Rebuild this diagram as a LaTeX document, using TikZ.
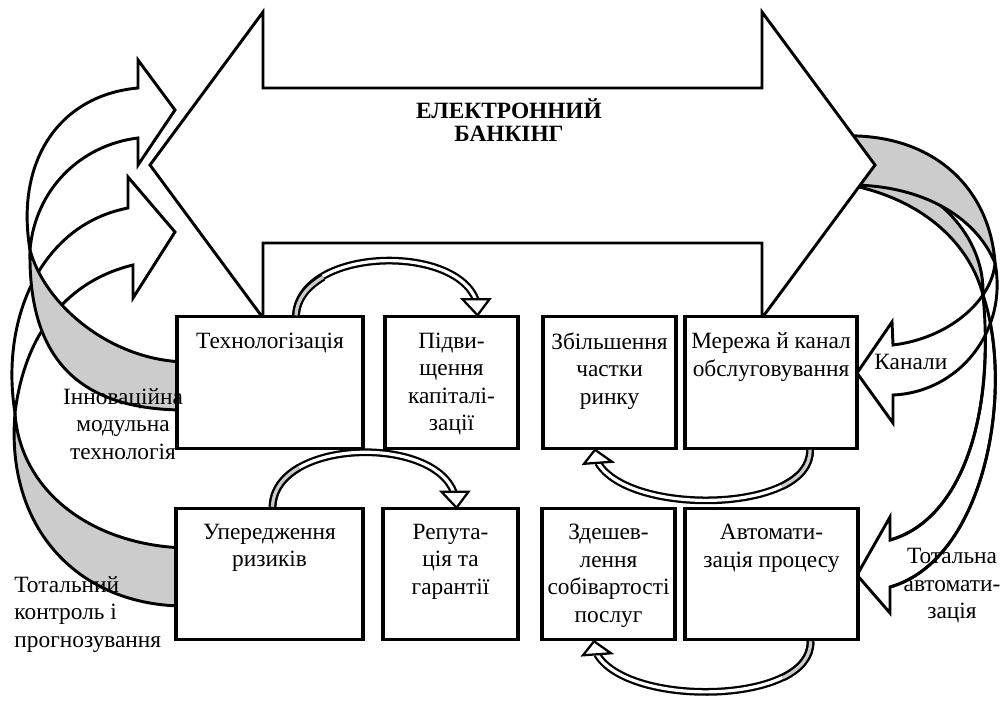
\documentclass[tikz,border=0pt]{standalone}
\usepackage{fontspec}
\setmainfont{Liberation Serif}
\usetikzlibrary{calc}
\definecolor{backgray}{HTML}{CCCCCC}
\newcommand\bodyfont{\fontsize{17.5}{20.6}\selectfont}
\tikzset{
  box/.style={draw, fill=white, line width=2.4pt, minimum height=98.5pt},
  txt/.style={align=center, inner sep=0pt, font=\bodyfont},
  rib/.style={double=white, double distance=2.4pt, line width=1.7pt},
  ribhead/.style={fill=white, line width=1.7pt},
}
\begin{document}
\begin{tikzpicture}[x=.75pt, y=-.75pt, line width=2.2pt]
\useasboundingbox (0,0) rectangle (1005,704);

% curved arrow, left bottom
\filldraw[fill=backgray] (185,548) .. controls (90,545) and (20,490) .. (15,413) .. controls (5,530) and (80,606) .. (185,606) -- cycle;
\filldraw[fill=white] (15,413) .. controls (0,320) and (40,225) .. (128,208) -- (128,177) -- (175,232) -- (133,298) -- (133,265) .. controls (70,280) and (25,330) .. (15,413) -- cycle;
% curved arrow, left top
\filldraw[fill=backgray] (185,362) .. controls (110,360) and (45,305) .. (30,250) .. controls (28,360) and (80,410) .. (185,410) -- cycle;
\filldraw[fill=white] (30,250) .. controls (15,160) and (60,95) .. (138,88) -- (138,60) -- (175,110) -- (138,165) -- (138,138) .. controls (80,145) and (35,190) .. (30,250) -- cycle;

% curved arrows, right
\filldraw[fill=backgray] (850,168) .. controls (940,180) and (985,240) .. (983,295) .. controls (970,245) and (925,200) .. (850,185) -- cycle;
\filldraw[fill=backgray] (840,136) .. controls (935,132) and (990,190) .. (995,263) .. controls (975,215) and (920,185) .. (850,185) -- cycle;
\filldraw[fill=white] (983,295) .. controls (1015,390) and (985,560) .. (890,587) -- (890,613) -- (857,575) -- (890,517) -- (890,540) .. controls (960,520) and (995,420) .. (983,295) -- cycle;
\filldraw[fill=white] (995,263) .. controls (1008,330) and (960,392) .. (893,395) -- (893,423) -- (857,373) -- (892,322) -- (893,345) .. controls (950,338) and (992,300) .. (995,263) -- cycle;
\draw (983,295) .. controls (1015,390) and (985,560) .. (890,587);
\draw (890,540) .. controls (960,520) and (995,420) .. (983,295);

% big double arrow
\filldraw[fill=white] (150,165) -- (263,12) -- (263,88) -- (762,88) -- (762,12) -- (875,165) -- (762,318) -- (762,243) -- (263,243) -- (263,318) -- cycle;
\node[align=center, font=\bfseries\fontsize{17.5}{17.25}\selectfont] (ttl) at (509,120) {ЕЛЕКТРОННИЙ\\БАНКІНГ};

% boxes
\node[box, minimum width=139.5pt] (b1) at (270,382.5) {};
\node[box, minimum width=99.75pt] (b2) at (451.5,382.5) {};
\node[box, minimum width=99.75pt] (b3) at (609.5,382.5) {};
\node[box, minimum width=129pt] (b4) at (771,382.5) {};
\node[box, minimum width=140.25pt] (b5) at (269.5,574) {};
\node[box, minimum width=101.25pt] (b6) at (450.5,574) {};
\node[box, minimum width=99.75pt] (b7) at (608.5,574) {};
\node[box, minimum width=129.75pt] (b8) at (771.5,574) {};

\node[txt, anchor=north] (t1) at ($(b1.north)+(0,16)$) {Технологізація};
\node[txt, anchor=north] (t2) at ($(b2.north)+(0,16)$) {Підви-\\щення\\капіталі-\\зації};
\node[txt, anchor=north] (t3) at ($(b3.north)+(0,16)$) {Збільшення\\частки\\ринку};
\node[txt, anchor=north] (t4) at ($(b4.north)+(0,16)$) {Мережа й канал\\обслуговування};
\node[txt, anchor=north] (t5) at ($(b5.north)+(0,16)$) {Упередження\\ризиків};
\node[txt, anchor=north] (t6) at ($(b6.north)+(0,16)$) {Репута-\\ція та\\гарантії};
\node[txt, anchor=north] (t7) at ($(b7.north)+(0,16)$) {Здешев-\\лення\\собівартості\\послуг};
\node[txt, anchor=north] (t8) at ($(b8.north)+(0,16)$) {Автомати-\\зація процесу};

% small arrows between boxes
\coordinate (s1) at ($(b1.north)+(26,0)$);
\coordinate (e1) at ($(b2.north)+(24.5,-15)$);
\draw[rib] (s1) .. controls +(4,-68) and +(-21,-57) .. (e1);
\draw[rib, double=backgray] (s1) .. controls +(1,-17) and +(-15,9) .. ($(b1.north)+(53,-38)$);
\filldraw[ribhead] ($(b2.north)+(11,-16)$) -- ($(b2.north)+(38,-16)$) -- ($(b2.north)+(26,0)$) -- cycle;

\coordinate (s2) at ($(b5.north)+(3,0)$);
\coordinate (e2) at ($(b6.north)+(3.5,-14)$);
\draw[rib] (s2) .. controls +(2.5,-68) and +(-21,-58) .. (e2);
\draw[rib, double=backgray] (s2) .. controls +(0.6,-17) and +(-15.4,9) .. ($(b5.north)+(29.3,-39)$);
\filldraw[ribhead] ($(b6.north)+(-9,-15)$) -- ($(b6.north)+(18,-15)$) -- ($(b6.north)+(6,1)$) -- cycle;

\coordinate (s3) at ($(b4.south)+(39,0)$);
\coordinate (e3) at ($(b3.south)+(-11.5,13)$);
\draw[rib] (s3) .. controls +(2,63) and +(32,54) .. (e3);
\draw[rib, double=backgray] (s3) .. controls +(0.5,15.75) and +(17.3,-8.5) .. ($(b4.south)+(11.2,36.4)$);
\filldraw[ribhead] ($(b3.south)+(-25.5,14)$) -- ($(b3.south)+(-14.5,0)$) -- ($(b3.south)+(2.5,12)$) -- cycle;

\coordinate (s4) at ($(b8.south)+(39,0)$);
\coordinate (e4) at ($(b7.south)+(-11.5,13)$);
\draw[rib] (s4) .. controls +(2,63) and +(32,54) .. (e4);
\draw[rib, double=backgray] (s4) .. controls +(0.5,15.75) and +(17.3,-8.5) .. ($(b8.south)+(11.2,36.4)$);
\filldraw[ribhead] ($(b7.south)+(-25.5,14)$) -- ($(b7.south)+(-14.5,0)$) -- ($(b7.south)+(2.5,12)$) -- cycle;

% side labels
\node[txt, anchor=north] (inn) at (123,387) {Інноваційна\\модульна\\технологія};
\node[txt, align=left, anchor=north west] (tot) at (13,575) {Тотальний\\контроль і\\прогнозування};
\node[txt, anchor=north west] (kan) at (873,353) {Канали};
\node[txt, anchor=north] (avt) at (952,547) {Тотальна\\автомати-\\зація};
\end{tikzpicture}
\end{document}
